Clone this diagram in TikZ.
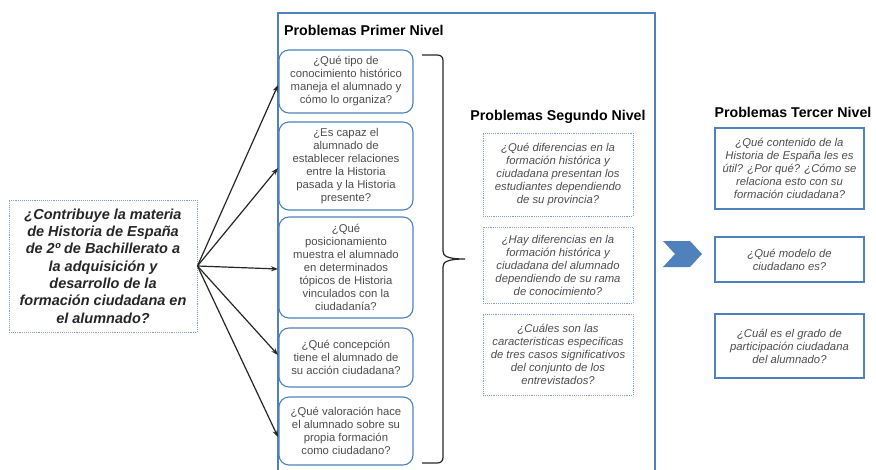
\documentclass[tikz,border=0pt]{standalone}
\usepackage{fontspec}
\setmainfont{Liberation Sans}
\usetikzlibrary{arrows.meta}
\definecolor{boxblue}{HTML}{4F81BD}
\definecolor{dotblue}{HTML}{7F9FCF}
\definecolor{txtgray}{HTML}{4D4D4D}
\definecolor{txtdark}{HTML}{262626}
\tikzset{
  primerbox/.style={draw=boxblue, line width=1.1pt, rounded corners=10pt, minimum width=134pt, inner sep=0pt, align=center, text=txtgray, font=\fontsize{11.3}{13}\selectfont},
  segbox/.style={draw=dotblue, densely dotted, line width=0.9pt, minimum width=150pt, inner sep=0pt, align=center, text=txtgray, font=\fontsize{11.3}{13}\selectfont\itshape},
  terbox/.style={draw=boxblue, line width=1.3pt, minimum width=149pt, inner sep=0pt, align=center, text=txtgray, font=\fontsize{11.3}{13}\selectfont\itshape},
  mainbox/.style={draw=dotblue, densely dotted, line width=0.9pt, minimum width=188pt, minimum height=132pt, inner sep=0pt, align=center, text=txtdark, font=\fontsize{14.5}{17.3}\selectfont\bfseries\itshape},
  heading/.style={inner sep=0pt, font=\fontsize{14.2}{16}\selectfont\bfseries},
  linkarrow/.style={-{Stealth[length=7pt,width=5pt]}, line width=1.2pt, black!85},
}
\begin{document}
\begin{tikzpicture}[x=1pt,y=-1pt]
\useasboundingbox (0,0) rectangle (876,469);
% container
\draw[boxblue, line width=1.4pt] (278,470) -- (278,13) -- (655,13) -- (655,470);
\node[heading, anchor=west] (h1) at (284,30) {Problemas Primer Nivel};
% main question
\node[mainbox] (lq) at (103,266) {¿Contribuye la materia\\de Historia de España\\de 2º de Bachillerato a\\la adquisición y\\desarrollo de la\\formación ciudadana en\\el alumnado?};
% primer nivel
\node[primerbox, minimum height=63pt] (p1) at (346,81.5) {¿Qué tipo de\\conocimiento histórico\\maneja el alumnado y\\cómo lo organiza?};
\node[primerbox, minimum height=88pt] (p2) at (346,166) {¿Es capaz el\\alumnado de\\establecer relaciones\\entre la Historia\\pasada y la Historia\\presente?};
\node[primerbox, minimum height=101pt] (p3) at (346,267.5) {¿Qué\\posicionamiento\\muestra el alumnado\\en determinados\\tópicos de Historia\\vinculados con la\\ciudadanía?};
\node[primerbox, minimum height=59pt] (p4) at (346,357.5) {¿Qué concepción\\tiene el alumnado de\\su acción ciudadana?};
\node[primerbox, minimum height=68pt] (p5) at (346,431) {¿Qué valoración hace\\el alumnado sobre su\\propia formación\\como ciudadano?};
% arrows
\coordinate (t1) at (278,85);
\coordinate (t2) at (278,168);
\coordinate (t3) at (278,269);
\coordinate (t4) at (278,355);
\coordinate (t5) at (278,437);
\foreach \t in {t1,t2,t3,t4,t5} \draw[linkarrow] (lq.east) -- (\t);
% brace
\draw[line width=1.2pt, black!85] (422,55) -- (437,55) .. controls (441,55) and (443,57) .. (443,61)
  -- (443,251) .. controls (443,256) and (447,259) .. (465,259)
  .. controls (447,259) and (443,262) .. (443,267)
  -- (443,457) .. controls (443,461) and (441,463) .. (437,463) -- (422,463);
% segundo nivel
\node[heading] (h2) at (558,117) {Problemas Segundo Nivel};
\node[segbox, minimum height=83pt] (s1) at (558,174.5) {¿Qué diferencias en la\\formación histórica y\\ciudadana presentan los\\estudiantes dependiendo\\de su provincia?};
\node[segbox, minimum height=76pt] (s2) at (558,265) {¿Hay diferencias en la\\formación histórica y\\ciudadana del alumnado\\dependiendo de su rama\\de conocimiento?};
\node[segbox, minimum height=81pt] (s3) at (558,354.5) {¿Cuáles son las\\caracteristicas especificas\\de tres casos significativos\\del conjunto de los\\entrevistados?};
% chevron
\fill[boxblue] (663,241) -- (690,241) -- (702,254) -- (690,267) -- (663,267) -- (675,254) -- cycle;
% tercer nivel
\node[heading] (h3) at (793,112) {Problemas Tercer Nivel};
\node[terbox, minimum height=81pt] (r1) at (789.5,168.5) {¿Qué contenido de la\\Historia de España les es\\útil? ¿Por qué? ¿Cómo se\\relaciona esto con su\\formación ciudadana?};
\node[terbox, minimum height=45pt] (r2) at (789.5,259.5) {¿Qué modelo de\\ciudadano es?};
\node[terbox, minimum height=64pt] (r3) at (789.5,346) {¿Cuál es el grado de\\participación ciudadana\\del alumnado?};
\end{tikzpicture}
\end{document}
